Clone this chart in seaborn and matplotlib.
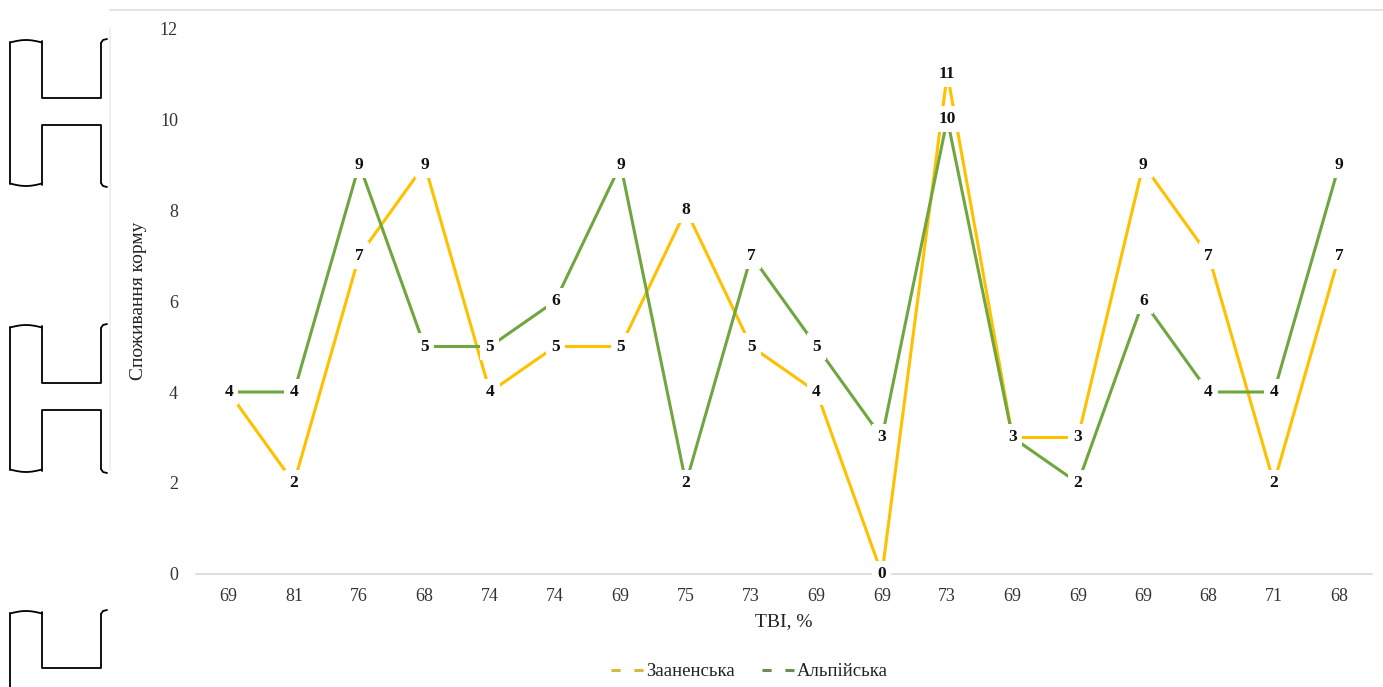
import numpy as np
import pandas as pd
import seaborn as sns
import matplotlib
matplotlib.use("Agg")
import matplotlib.pyplot as plt
from matplotlib.lines import Line2D

# Test-day index (ТВІ, %) for each animal, and feed intake by breed
tvi_labels = ["69", "81", "76", "68", "74", "74", "69", "75", "73",
              "69", "69", "73", "69", "69", "69", "68", "71", "68"]
zaanenska = [4, 2, 7, 9, 4, 5, 5, 8, 5, 4, 0, 11, 3, 3, 9, 7, 2, 7]
alpiiska = [4, 4, 9, 5, 5, 6, 9, 2, 7, 5, 3, 10, 3, 2, 6, 4, 4, 9]
series_names = ["Зааненська", "Альпійська"]
y_ticks = [0, 2, 4, 6, 8, 10, 12]

colors = {"Зааненська": "#FFC000", "Альпійська": "#70A63F"}
legend_colors = {"Зааненська": "#D9B93A", "Альпійська": "#6E8B5A"}

sns.set_theme(style="white")
plt.rcParams["font.family"] = ["Liberation Serif", "DejaVu Serif"]

pos = np.arange(len(tvi_labels))
df = pd.concat([
    pd.DataFrame({"pos": pos, "value": zaanenska, "breed": series_names[0]}),
    pd.DataFrame({"pos": pos, "value": alpiiska, "breed": series_names[1]}),
])

fig = plt.figure(figsize=(13.83, 6.87), dpi=100)
ax = fig.add_axes([0.1417, 0.1645, 0.8503, 0.7947])

sns.lineplot(data=df, x="pos", y="value", hue="breed", palette=colors,
             linewidth=2.2, legend=False, ax=ax, zorder=2)

# Value labels on white boxes so the lines break around them
for vals in (zaanenska, alpiiska):
    for i, v in zip(pos, vals):
        ax.text(i, v, str(v), ha="center", va="center", fontsize=12.5,
                fontweight="bold", color="#111111", zorder=5,
                bbox=dict(boxstyle="square,pad=0.3", fc="white", ec="none"))

ax.set_xlim(-0.5, len(tvi_labels) - 0.5)
ax.set_ylim(0, 12)
ax.set_xticks(pos)
ax.set_xticklabels(tvi_labels)
ax.set_yticks(y_ticks)
ax.tick_params(axis="both", length=0, labelsize=13, colors="#333333")
ax.tick_params(axis="y", pad=13)
ax.tick_params(axis="x", pad=10)
for side in ("top", "right", "left"):
    ax.spines[side].set_visible(False)
ax.spines["bottom"].set_color("#D9D9D9")
ax.spines["bottom"].set_linewidth(1.2)

ax.set_xlabel("ТВІ, %", fontsize=14, color="#222222", labelpad=6)
ax.set_ylabel("Споживання корму", fontsize=14, color="#222222", labelpad=9)

handles = [Line2D([0], [0], color=legend_colors[n], lw=2.2, linestyle=(0, (3, 4.5)))
           for n in series_names]
fig.legend(handles, series_names, loc="center", bbox_to_anchor=(0.542, 0.022),
           ncol=2, frameon=False, fontsize=13.5, handlelength=1.75,
           handletextpad=0.15, columnspacing=1.4, labelcolor="#222222")

# Page frame lines and binding marks along the left edge
over = fig.add_axes([0, 0, 1, 1], zorder=10)
over.set_xlim(0, 1383)
over.set_ylim(687, 0)
over.axis("off")
over.patch.set_alpha(0)
over.plot([110, 1383], [10, 10], color="#E3E3E3", lw=1.5)
over.plot([110, 110], [28, 470], color="#EDEDED", lw=1.2)


def binding(top, bar1, bar2, bottom, closed_bottom=True):
    kw = dict(color="black", lw=1.3)
    xl, xi, xr = 10, 42, 101
    arc = np.linspace(xl, xi, 20)
    over.plot(arc, top + 2.5 - 2.5 * np.sin(np.linspace(0, np.pi, 20)), **kw)
    over.plot([xl, xl], [top + 2, bottom - 2 if closed_bottom else 687], **kw)
    over.plot([xi, xi, xr, xr], [top + 1, bar1, bar1, top + 3], **kw)
    over.plot([xr, xr + 2, xr + 6], [top + 3, top, top - 1], **kw)
    if bar2 is not None:
        over.plot([xi, xi, xr, xr], [bottom - 1, bar2, bar2, bottom - 3], **kw)
        over.plot([xr, xr + 2, xr + 6], [bottom - 3, bottom, bottom + 1], **kw)
        over.plot(arc, bottom - 2.5 + 2.5 * np.sin(np.linspace(0, np.pi, 20)), **kw)


binding(40, 98, 125, 186)
binding(325, 383, 410, 472)
binding(611, 668, None, 700, closed_bottom=False)

fig.savefig("out.png", dpi=100, facecolor="white")
